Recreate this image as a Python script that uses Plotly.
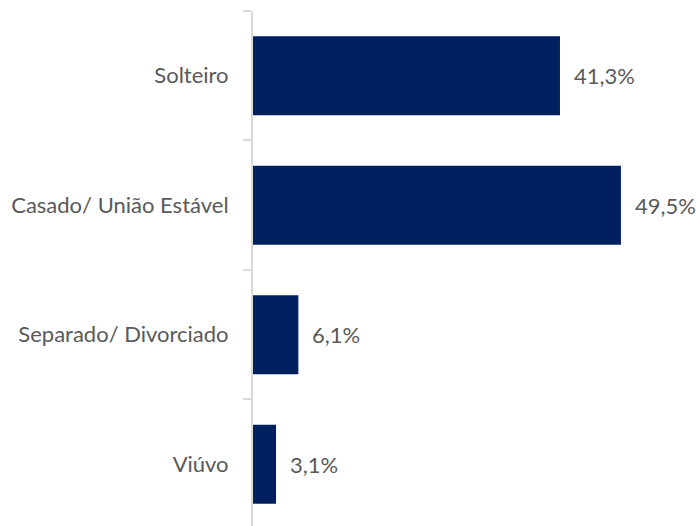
import plotly.graph_objects as go

categories = ["Solteiro", "Casado/ União Estável", "Separado/ Divorciado", "Viúvo"]
values = [41.3, 49.5, 6.1, 3.1]
labels = ["41,3%", "49,5%", "6,1%", "3,1%"]

BAR = "#002060"
TXT = "#595959"
FONT = "Lato"

fig = go.Figure()
fig.add_trace(go.Bar(
    y=categories, x=values, orientation="h",
    marker=dict(color=BAR, line=dict(width=0)),
    width=0.61, hoverinfo="skip",
))
for c, v, t in zip(categories, values, labels):
    fig.add_annotation(x=v, y=c, text=t, showarrow=False, xanchor="left",
                       xshift=12, font=dict(family=FONT, size=22, color=TXT))

fig.update_layout(
    width=696, height=526,
    margin=dict(l=253, r=0, t=11, b=0),
    paper_bgcolor="white", plot_bgcolor="white",
    showlegend=False,
)
fig.update_xaxes(range=[0, 59.6], visible=False, showgrid=False, zeroline=False)
fig.update_yaxes(
    type="category", categoryorder="array", categoryarray=categories,
    range=[3.477, -0.5], automargin=False,
    showline=True, linecolor="#d9d9d9", linewidth=2,
    ticks="outside", tickson="boundaries", ticklen=8, tickcolor="#d9d9d9", tickwidth=2,
    ticklabelstandoff=18,
    tickfont=dict(family=FONT, size=22, color=TXT),
    showgrid=False, zeroline=False,
)
fig.write_html(
    "out.html",
    config={"displayModeBar": False},
    post_script="document.body.style.margin='0';document.body.style.overflow='hidden';",
)
